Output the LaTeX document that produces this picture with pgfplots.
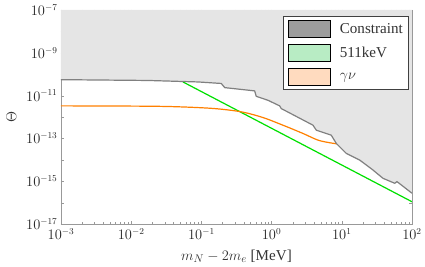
\documentclass[border={3pt 0pt 0pt 1pt}]{standalone}
\usepackage{pgfplots}
\pgfplotsset{compat=1.18}
\usepackage{fontspec}
\setmainfont{Liberation Serif}
\definecolor{shade}{HTML}{E5E5E5}
\definecolor{cline}{HTML}{808080}
\definecolor{gline}{HTML}{00E000}
\definecolor{oline}{HTML}{FF8000}
\definecolor{cpatch}{HTML}{9C9C9C}
\definecolor{gpatch}{HTML}{B8ECC4}
\definecolor{opatch}{HTML}{FFDBBF}
\begin{document}
\begin{tikzpicture}
\begin{axis}[
  width=349pt, height=213pt, scale only axis,
  xmode=log, ymode=log,
  xmin=1e-3, xmax=100, ymin=1e-17, ymax=1e-7,
  xtick={1e-3,1e-2,1e-1,1,10,100},
  ytick={1e-17,1e-16,1e-15,1e-14,1e-13,1e-12,1e-11,1e-10,1e-9,1e-8,1e-7},
  yticklabels={$10^{-17}$,,$10^{-15}$,,$10^{-13}$,,$10^{-11}$,,$10^{-9}$,,$10^{-7}$},
  yminorticks=false,
  axis line style={draw=gray!80},
  tick style={draw=gray!80},
  major tick length=3pt, minor tick length=1.8pt,
  tick label style={font=\fontsize{13.5}{14}\selectfont, text=black!85},
  xticklabel style={yshift=-1pt},
  xlabel={$m_N - 2m_e$ [MeV]},
  ylabel={$\Theta$},
  xlabel style={font=\fontsize{15}{16}\selectfont, text=black!80, yshift=-3pt},
  ylabel style={font=\fontsize{15}{16}\selectfont, text=black!80, yshift=3pt},
  legend cell align=left,
  legend style={at={(0.992,0.972)}, anchor=north east, draw=black!75, line width=0.8pt,
    font=\fontsize{15}{16}\selectfont, text=black!80, inner xsep=4pt, inner ysep=4pt,
    row sep=6.5pt, /tikz/every odd column/.append style={column sep=7pt}},
  legend image code/.code={\fill[#1] (0pt,-8.2pt) rectangle (42pt,8.2pt);},
]
\addplot[fill=shade, draw=none, forget plot] coordinates {
(0.001,5.55e-11) (0.01734,5.09e-11) (0.0895,4.34e-11) (0.192,3.69e-11)
(0.2148,2.36e-11) (0.574,1.66e-11) (0.605,9.27e-12) (0.889,6.04e-12)
(1.303,3.32e-12) (1.374,2.48e-12) (3.89,4.16e-13) (4.335,2.43e-13)
(7.08,1.42e-13) (8.36,5.85e-14) (11.59,2.0e-14) (17.99,9.79e-15)
(27.8,3.36e-15) (38.6,1.38e-15) (56.8,8.07e-16) (61.1,9.68e-16)
(100,2.77e-16) (100,1e-7) (0.001,1e-7)} --cycle;
\addplot[color=gline, line width=1.2pt, forget plot] coordinates {
(0.0547,4.34e-11) (100,1.11e-16)};
\addplot[color=oline, line width=1.2pt, smooth, forget plot] coordinates {
(0.001,3.32e-12) (0.01734,3.2e-12) (0.0547,2.95e-12) (0.1545,2.48e-12)
(0.370,1.75e-12) (0.753,9.48e-13) (1.452,4.16e-13) (2.80,1.71e-13)
(4.58,8.34e-14) (6.73,6.31e-14) (8.5,5.6e-14)};
\addplot[color=cline, line width=1.2pt, forget plot] coordinates {
(0.001,5.55e-11) (0.01734,5.09e-11) (0.0895,4.34e-11) (0.192,3.69e-11)
(0.2148,2.36e-11) (0.574,1.66e-11) (0.605,9.27e-12) (0.889,6.04e-12)
(1.303,3.32e-12) (1.374,2.48e-12) (3.89,4.16e-13) (4.335,2.43e-13)
(7.08,1.42e-13) (8.36,5.85e-14) (11.59,2.0e-14) (17.99,9.79e-15)
(27.8,3.36e-15) (38.6,1.38e-15) (56.8,8.07e-16) (61.1,9.68e-16)
(100,2.77e-16)};
\addlegendimage{fill=cpatch}
\addlegendentry{Constraint}
\addlegendimage{fill=gpatch}
\addlegendentry{511keV}
\addlegendimage{fill=opatch}
\addlegendentry{$\gamma\nu$}
\end{axis}
\end{tikzpicture}
\end{document}
